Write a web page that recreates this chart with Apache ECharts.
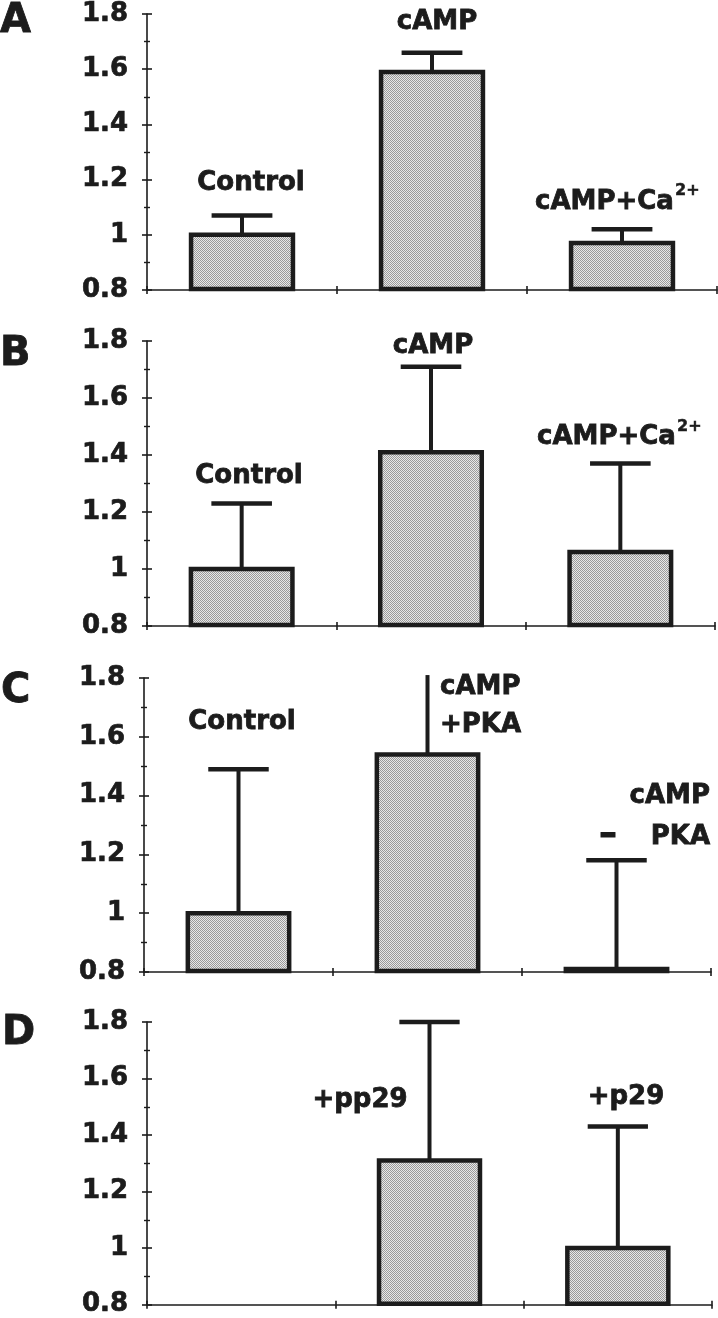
<!DOCTYPE html>
<html>
<head>
<meta charset="utf-8">
<script src="https://cdn.jsdelivr.net/npm/echarts@6/dist/echarts.min.js"></script>
<style>
html,body{margin:0;padding:0;background:#fff;}
#chart{width:718px;height:1318px;}
</style>
</head>
<body>
<div id="chart"></div>
<script>
// ---- data ----
const categoriesA = ['Control', 'cAMP', 'cAMP+Ca2+'];
const meanA = [1.00, 1.59, 0.97];
const errTopA = [1.07, 1.66, 1.02];

const categoriesB = ['Control', 'cAMP', 'cAMP+Ca2+'];
const meanB = [1.00, 1.41, 1.06];
const errTopB = [1.23, 1.71, 1.37];

const categoriesC = ['Control', 'cAMP+PKA', 'cAMP-PKA'];
const meanC = [1.00, 1.54, 0.81];
const errTopC = [1.49, 1.81, 1.18];

const categoriesD = ['', '+pp29', '+p29'];
const meanD = [null, 1.31, 1.00];
const errTopD = [null, 1.80, 1.43];

const yMin = 0.8, yMax = 1.8, yStep = 0.2;

// ---- styling ----
const INK = '#1c1c1c';
const FONT = '"DejaVu Sans", "Liberation Sans", sans-serif';

const pat = document.createElement('canvas');
pat.width = 2; pat.height = 2;
(function () {
  const c = pat.getContext('2d');
  c.fillStyle = '#e8e8e8'; c.fillRect(0, 0, 2, 2);
  c.fillStyle = '#9a9a9a'; c.fillRect(0, 0, 1, 1); c.fillRect(1, 1, 1, 1);
})();

const panels = [
  { cats: categoriesA, mean: meanA, err: errTopA, grid: { left: 147, right: 1, top: 14, height: 276 } },
  { cats: categoriesB, mean: meanB, err: errTopB, grid: { left: 147, right: 3, top: 341, height: 285 } },
  { cats: categoriesC, mean: meanC, err: errTopC, grid: { left: 144, right: 7, top: 678, height: 294 } },
  { cats: categoriesD, mean: meanD, err: errTopD, grid: { left: 147, right: 6, top: 1022, height: 284 } }
];

const grids = [], xAxes = [], yAxes = [], series = [];

panels.forEach((p, i) => {
  grids.push(Object.assign({ containLabel: false }, p.grid));
  [false, true].forEach(inside => {
    xAxes.push({
      type: 'category', gridIndex: i, data: p.cats, boundaryGap: true, position: 'bottom', offset: 0,
      axisLine: { show: !inside, onZero: false, lineStyle: { color: INK, width: 1.6 } },
      axisTick: { show: true, inside: inside, length: 4, lineStyle: { color: INK, width: 1.6 } },
      axisLabel: { show: false }, splitLine: { show: false }
    });
    yAxes.push({
      type: 'value', gridIndex: i, min: yMin, max: yMax, interval: yStep, position: 'left', offset: 0,
      axisLine: { show: !inside, onZero: false, lineStyle: { color: INK, width: 1.6 } },
      axisTick: { show: true, inside: inside, length: 5, lineStyle: { color: INK, width: 1.6 } },
      minorTick: { show: true, splitNumber: 2, length: 3, lineStyle: { color: INK, width: 1.4 } },
      axisLabel: inside ? { show: false } : {
        show: true, margin: 19, color: INK, fontFamily: FONT, fontWeight: 'bold', fontSize: 26,
        textBorderColor: INK, textBorderWidth: 0.7,
        formatter: v => String(Math.round(v * 10) / 10)
      },
      splitLine: { show: false }
    });
  });

  const data = [];
  p.mean.forEach((m, k) => { if (m != null) data.push([k, m, p.err[k]]); });

  series.push({
    type: 'custom', xAxisIndex: 2 * i, yAxisIndex: 2 * i,
    encode: { x: 0, y: [1, 2] },
    data: data,
    renderItem: function (params, api) {
      const cat = api.value(0), m = api.value(1), e = api.value(2);
      const band = api.size([1, 0])[0];
      const base = api.coord([cat, yMin]);
      const top = api.coord([cat, m]);
      const et = api.coord([cat, e]);
      const bw = band * 0.56, cw = band * 0.32, bs = 4.5;
      const children = [];
      children.push({
        type: 'line', shape: { x1: top[0], y1: top[1], x2: et[0], y2: et[1] },
        style: { stroke: INK, lineWidth: 4 }
      });
      if (e <= yMax + 1e-9) {
        children.push({
          type: 'line', shape: { x1: et[0] - cw / 2, y1: et[1], x2: et[0] + cw / 2, y2: et[1] },
          style: { stroke: INK, lineWidth: 4.5 }
        });
      }
      children.push({
        type: 'rect',
        shape: { x: base[0] - bw / 2 + bs / 2, y: top[1], width: bw - bs, height: base[1] - top[1] - 1 },
        style: { fill: { image: pat, repeat: 'repeat' }, stroke: INK, lineWidth: bs }
      });
      return { type: 'group', children: children };
    },
    z: 5
  });
});

function txt(x, y, text, size, align) {
  return {
    type: 'text', x: x, y: y, z: 100,
    style: {
      text: text, fill: INK, font: 'bold ' + size + 'px ' + FONT,
      stroke: INK, lineWidth: size > 20 ? 0.8 : 0.5,
      align: align || 'center', verticalAlign: 'middle'
    }
  };
}

const graphics = [
  // panel letters
  txt(0, 22, 'A', 40, 'left'), txt(0, 355, 'B', 40, 'left'), txt(1, 692, 'C', 40, 'left'), txt(2, 1034, 'D', 40, 'left'),
  // A
  txt(251, 183, 'Control', 26), txt(437, 22, 'cAMP', 26),
  txt(535, 202, 'cAMP+Ca', 26, 'left'), txt(675, 191, '2+', 16, 'left'),
  // B
  txt(249, 476, 'Control', 26), txt(433, 346, 'cAMP', 26),
  txt(537, 437, 'cAMP+Ca', 26, 'left'), txt(677, 427, '2+', 16, 'left'),
  // C
  txt(242, 722, 'Control', 26),
  txt(440, 687, 'cAMP', 26, 'left'), txt(440, 725, '+PKA', 26, 'left'),
  txt(710, 796, 'cAMP', 26, 'right'), txt(710, 837, 'PKA', 26, 'right'), txt(608, 836, '–', 36, 'center'),
  // D
  txt(360, 1100, '+pp29', 26), txt(626, 1097, '+p29', 26)
];

const chart = echarts.init(document.getElementById('chart'), null, { renderer: 'canvas' });
chart.setOption({
  animation: false,
  backgroundColor: '#fff',
  grid: grids, xAxis: xAxes, yAxis: yAxes, series: series,
  graphic: graphics
});
</script>
</body>
</html>
